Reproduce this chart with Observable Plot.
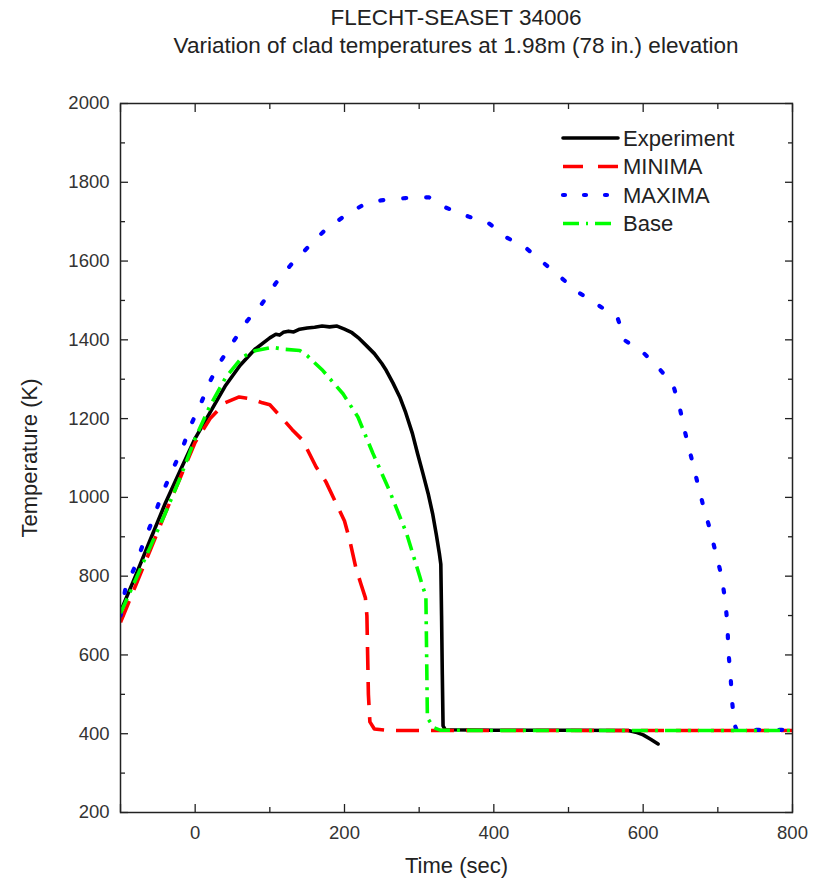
<!DOCTYPE html>
<html><head><meta charset="utf-8">
<script src="https://cdn.jsdelivr.net/npm/d3@7"></script>
<script src="https://cdn.jsdelivr.net/npm/@observablehq/plot@0.6"></script>
<style>
body{margin:0;background:#fff;font-family:"Liberation Sans",Arial,sans-serif;}
#wrap{position:relative;width:813px;height:880px;}
.title{padding-left:99px;text-align:center;font-size:22.5px;line-height:28px;padding-top:4px;color:#222;height:56px;}
#legend{position:absolute;left:555px;top:120px;}
</style></head><body>
<div id="wrap">
<div class="title">FLECHT-SEASET 34006<br>Variation of clad temperatures at 1.98m (78 in.) elevation</div>
<div id="chart"></div>
<svg id="legend" width="240" height="120"></svg>
</div>
<script>
// ---- data ----
const seriesNames = ["Experiment", "MINIMA", "MAXIMA", "Base"];
const seriesColors = ["#000000", "#ff0000", "#0000ff", "#00ff00"];

const expTime = [-100,-80,-60,-40,-20,0,20,40,60,80,100,108,113,118,125,132,140,150,160,170,180,190,200,210,220,230,240,250,256,265,274,282,291,298,305,312,318,323,327,329,330,331,332,335,400,500,580,590,600,610,620];
const expTemp = [710,800,893,985,1068,1150,1216,1282,1335,1376,1405,1414,1412,1419,1422,1420,1427,1430,1432,1435,1433,1435,1427,1418,1403,1384,1365,1340,1322,1290,1255,1215,1162,1110,1061,1010,959,905,858,830,700,550,420,410,409,409,408,404,397,386,374];

const minTime = [-100,-80,-60,-40,-20,0,20,40,59,75,90,100,117,130,144,162,175,189,200,207,215,222,228,230,231,232,234,240,260,400,600,800];
const minTemp = [683,775,867,960,1050,1140,1200,1240,1255,1250,1240,1235,1200,1172,1145,1077,1040,984,940,891,823,780,745,700,600,500,430,412,408,408,408,408];

const maxTime = [-100,-93,-80,-68,-56,-44,-31,-17,-6,8,20,35,52,70,90,108,128,150,173,201,229,249,282,313,334,366,392,417,442,463,487,512,540,566,576,601,620,640,649,656,664,672,680,689,697,705,710,713,714,717,719,722,725,790];
const maxTemp = [700,772,827,891,947,1010,1067,1125,1183,1240,1295,1348,1398,1449,1493,1544,1590,1633,1677,1716,1747,1754,1760,1762,1737,1713,1698,1660,1635,1601,1563,1522,1488,1454,1398,1366,1330,1287,1227,1166,1105,1043,982,922,861,800,737,674,611,548,485,425,410,410];

const baseTime = [-100,-80,-60,-40,-20,0,19,41,63,80,103,120,140,150,171,198,218,238,260,283,301,305,309,310,311,320,328,400,600,800];
const baseTemp = [706,790,875,960,1050,1150,1229,1305,1356,1372,1381,1376,1373,1360,1322,1263,1204,1112,1018,909,798,772,750,600,440,415,409,408,408,408];

const xMajor = [-100,0,200,400,600,800];
const xMajorLabels = [0,200,400,600,800];
const xMinor = [100,300,500,700];
const yMajor = [200,400,600,800,1000,1200,1400,1600,1800,2000];
const yMinor = [300,500,700,900,1100,1300,1500,1700,1900];

const styles = [
  {strokeWidth: 3.6, strokeDasharray: null, strokeLinecap: "round"},
  {strokeWidth: 3.6, strokeDasharray: "23,12", strokeLinecap: "butt"},
  {strokeWidth: 4.2, strokeDasharray: "3,20", strokeLinecap: "round"},
  {strokeWidth: 3.6, strokeDasharray: "16,7,3,7", strokeLinecap: "butt"}
];

const toRows = (ts, vs) => ts.map((t, i) => ({t, v: vs[i]}));
const allSeries = [toRows(expTime, expTemp), toRows(minTime, minTemp), toRows(maxTime, maxTemp), toRows(baseTime, baseTemp)];

const axisColor = "#222";
const lineMarks = allSeries.map((rows, i) => Plot.line(rows, {
  x: "t", y: "v", stroke: seriesColors[i], strokeWidth: styles[i].strokeWidth,
  strokeDasharray: styles[i].strokeDasharray, strokeLinecap: styles[i].strokeLinecap,
  strokeLinejoin: "round", clip: true
}));

const fmt = d => String(d);
const chart = Plot.plot({
  width: 813, height: 820,
  marginTop: 43, marginBottom: 68, marginLeft: 120, marginRight: 21,
  x: {domain: [-100, 800]},
  y: {domain: [200, 2000]},
  style: {fontFamily: "Liberation Sans, Arial, sans-serif", fontSize: "18px", color: "#222", background: "#fff", overflow: "visible"},
  marks: [
    // inward ticks on all four sides
    Plot.axisX(xMajor, {anchor: "bottom", tickSize: -8, fill: "none", stroke: axisColor, strokeWidth: 1.3}),
    Plot.axisX(xMajor, {anchor: "top", tickSize: -8, fill: "none", stroke: axisColor, strokeWidth: 1.3}),
    Plot.axisX(xMinor, {anchor: "bottom", tickSize: -5, fill: "none", stroke: axisColor, strokeWidth: 1.3}),
    Plot.axisX(xMinor, {anchor: "top", tickSize: -5, fill: "none", stroke: axisColor, strokeWidth: 1.3}),
    Plot.axisY(yMajor, {anchor: "left", tickSize: -8, fill: "none", stroke: axisColor, strokeWidth: 1.3}),
    Plot.axisY(yMajor, {anchor: "right", tickSize: -8, fill: "none", stroke: axisColor, strokeWidth: 1.3}),
    Plot.axisY(yMinor, {anchor: "left", tickSize: -5, fill: "none", stroke: axisColor, strokeWidth: 1.3}),
    Plot.axisY(yMinor, {anchor: "right", tickSize: -5, fill: "none", stroke: axisColor, strokeWidth: 1.3}),
    // tick labels
    Plot.axisX(xMajorLabels, {anchor: "bottom", tickSize: 0, tickPadding: 13, fontSize: 18.5, fill: "#333", label: null, tickFormat: fmt}),
    Plot.axisY(yMajor, {anchor: "left", tickSize: 0, tickPadding: 11, fontSize: 18.5, fill: "#333", label: null, tickFormat: fmt}),
    // axis titles
    Plot.axisX([], {anchor: "bottom", tickSize: 0, fontSize: 22, fill: "#222", label: "Time (sec)", labelAnchor: "center", labelArrow: "none", labelOffset: 60}),
    Plot.axisY([], {anchor: "left", tickSize: 0, fontSize: 22, fill: "#222", label: "Temperature (K)", labelAnchor: "center", labelArrow: "none", labelOffset: 99}),
    ...lineMarks,
    Plot.frame({stroke: axisColor, strokeWidth: 1.5})
  ]
});
document.getElementById("chart").appendChild(chart);

// legend (overlay inside the plot area, upper right)
const leg = d3.select("#legend");
seriesNames.forEach((name, i) => {
  const y = 18 + i * 28.5;
  leg.append("line").attr("x1", 8).attr("x2", 63).attr("y1", y).attr("y2", y)
    .attr("stroke", seriesColors[i]).attr("stroke-width", styles[i].strokeWidth)
    .attr("stroke-dasharray", i === 1 ? "20,15" : i === 2 ? "2,19" : i === 3 ? "16,7,2,7" : null)
    .attr("stroke-linecap", styles[i].strokeLinecap);
  leg.append("text").attr("x", 68).attr("y", y).attr("dy", "0.36em")
    .attr("font-size", 22).attr("fill", "#222")
    .attr("font-family", "Liberation Sans, Arial, sans-serif").text(name);
});
</script>
</body></html>
